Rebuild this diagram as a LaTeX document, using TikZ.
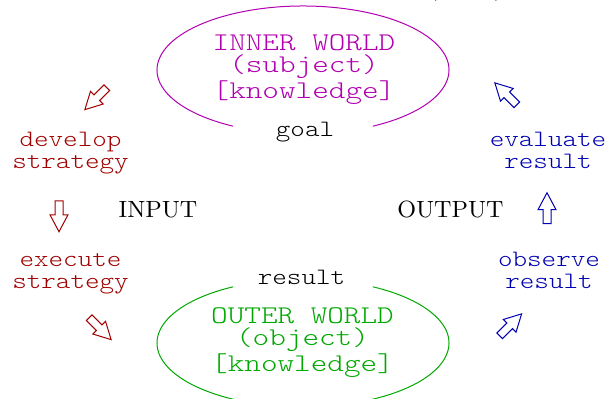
\documentclass[tikz,border=0pt]{standalone}
\usepackage{fontspec}
\usetikzlibrary{shapes.arrows}
\newfontfamily\labelfont[FakeStretch=1.18]{Latin Modern Mono Light}
\newfontfamily\worldfont[FakeStretch=1.24]{Latin Modern Mono Light}
\definecolor{innercol}{HTML}{B000B0}
\definecolor{outercol}{HTML}{00A800}
\definecolor{leftcol}{HTML}{A00000}
\definecolor{rightcol}{HTML}{0000B0}
\tikzset{
  textsmall/.style={font=\labelfont\fontsize{9.4}{8.8}\selectfont, align=center, anchor=base},
  textbig/.style={font=\worldfont\fontsize{10.2}{8.8}\selectfont, align=center, anchor=base},
  textplain/.style={font=\fontsize{9.4}{11}\selectfont, anchor=base},
  blockarrow/.style={single arrow, draw, line width=0.4pt, minimum height=12.4pt,
    inner xsep=0pt, inner ysep=1.4pt, single arrow head extend=2pt, single arrow tip angle=56}
}
\begin{document}
\begin{tikzpicture}[x=0.4pt,y=0.4pt]
  \clip (0,0) rectangle (607,399);
  % the two worlds
  \draw[innercol, line width=0.4pt] (303,329) ++(-61.4:146 and 64)
    arc[start angle=-61.4, end angle=241.4, x radius=146, y radius=64];
  \draw[outercol, line width=0.4pt] (303,56) ++(118.6:146 and 64)
    arc[start angle=118.6, end angle=421.4, x radius=146, y radius=64];
  \node[textbig, innercol] (inner) at (304,300) {INNER WORLD\\(subject)\\{[knowledge]}};
  \node[textbig, outercol] (outer) at (302.5,27) {OUTER WORLD\\(object)\\{[knowledge]}};
  \node[textsmall] (goal) at (305,262) {goal};
  \node[textsmall] (result) at (301.5,114) {result};
  \node[textplain] (note) at (466,403) {(input)};
  % left side
  \node[textsmall, leftcol] (develop) at (70.5,230) {develop\\strategy};
  \node[textsmall, leftcol] (execute) at (70.5,110) {execute\\strategy};
  \node[textplain] (input) at (158,181) {INPUT};
  \node[blockarrow, leftcol, rotate=225] (a1) at (98.5,303) {};
  \node[blockarrow, leftcol, rotate=-90] (a2) at (59,186.5) {};
  \node[blockarrow, leftcol, rotate=-45] (a3) at (97.5,73) {};
  % right side
  \node[textsmall, rightcol] (evaluate) at (548,230) {evaluate\\result};
  \node[textsmall, rightcol] (observe) at (549,110) {observe\\result};
  \node[textplain] (output) at (450.5,181) {OUTPUT};
  \node[blockarrow, rightcol, rotate=45] (a4) at (508,71.5) {};
  \node[blockarrow, rightcol, rotate=90] (a5) at (547,187) {};
  \node[blockarrow, rightcol, rotate=135] (a6) at (508.5,302.5) {};
\end{tikzpicture}
\end{document}
